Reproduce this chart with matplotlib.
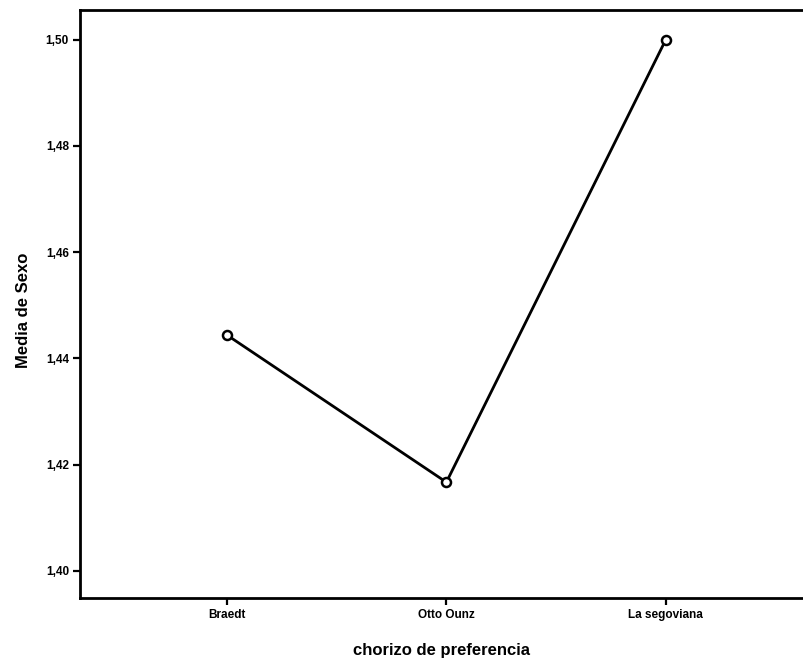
import matplotlib
matplotlib.use("Agg")
import matplotlib.pyplot as plt

categorias = ["Braedt", "Otto Ounz", "La segoviana"]
medias = [1.4444, 1.4167, 1.5000]
yticks = [1.40, 1.42, 1.44, 1.46, 1.48, 1.50]
ytick_labels = ["1,40", "1,42", "1,44", "1,46", "1,48", "1,50"]

plt.rcParams['font.family'] = ['Liberation Sans', 'DejaVu Sans']

fig = plt.figure(figsize=(8.04, 6.63), dpi=100)
ax = fig.add_axes([0.0995, 0.098, 0.9005, 0.887])

x = list(range(len(categorias)))
ax.plot(x, medias, color='black', linewidth=2, marker='o', markersize=6.5,
        markerfacecolor='white', markeredgecolor='black', markeredgewidth=1.8)

ax.set_xlim(-0.67, 2.63)
ax.set_ylim(1.3949, 1.5056)
ax.set_xticks(x)
ax.set_xticklabels(categorias, fontsize=8.5)
ax.set_yticks(yticks)
ax.set_yticklabels(ytick_labels, fontsize=8.5)

for lbl in ax.get_xticklabels() + ax.get_yticklabels():
    lbl.set_fontweight('bold')

ax.spines['right'].set_visible(False)
for s in ['left', 'bottom', 'top']:
    ax.spines[s].set_linewidth(2)
ax.tick_params(direction='out', length=5, width=1.6, pad=3)

ax.set_xlabel("chorizo de preferencia", fontsize=12, fontweight='bold', labelpad=16)
ax.set_ylabel("Media de Sexo", fontsize=12, fontweight='bold')
ax.yaxis.set_label_coords(-0.068, 0.49)

fig.savefig("out.png", dpi=100)
